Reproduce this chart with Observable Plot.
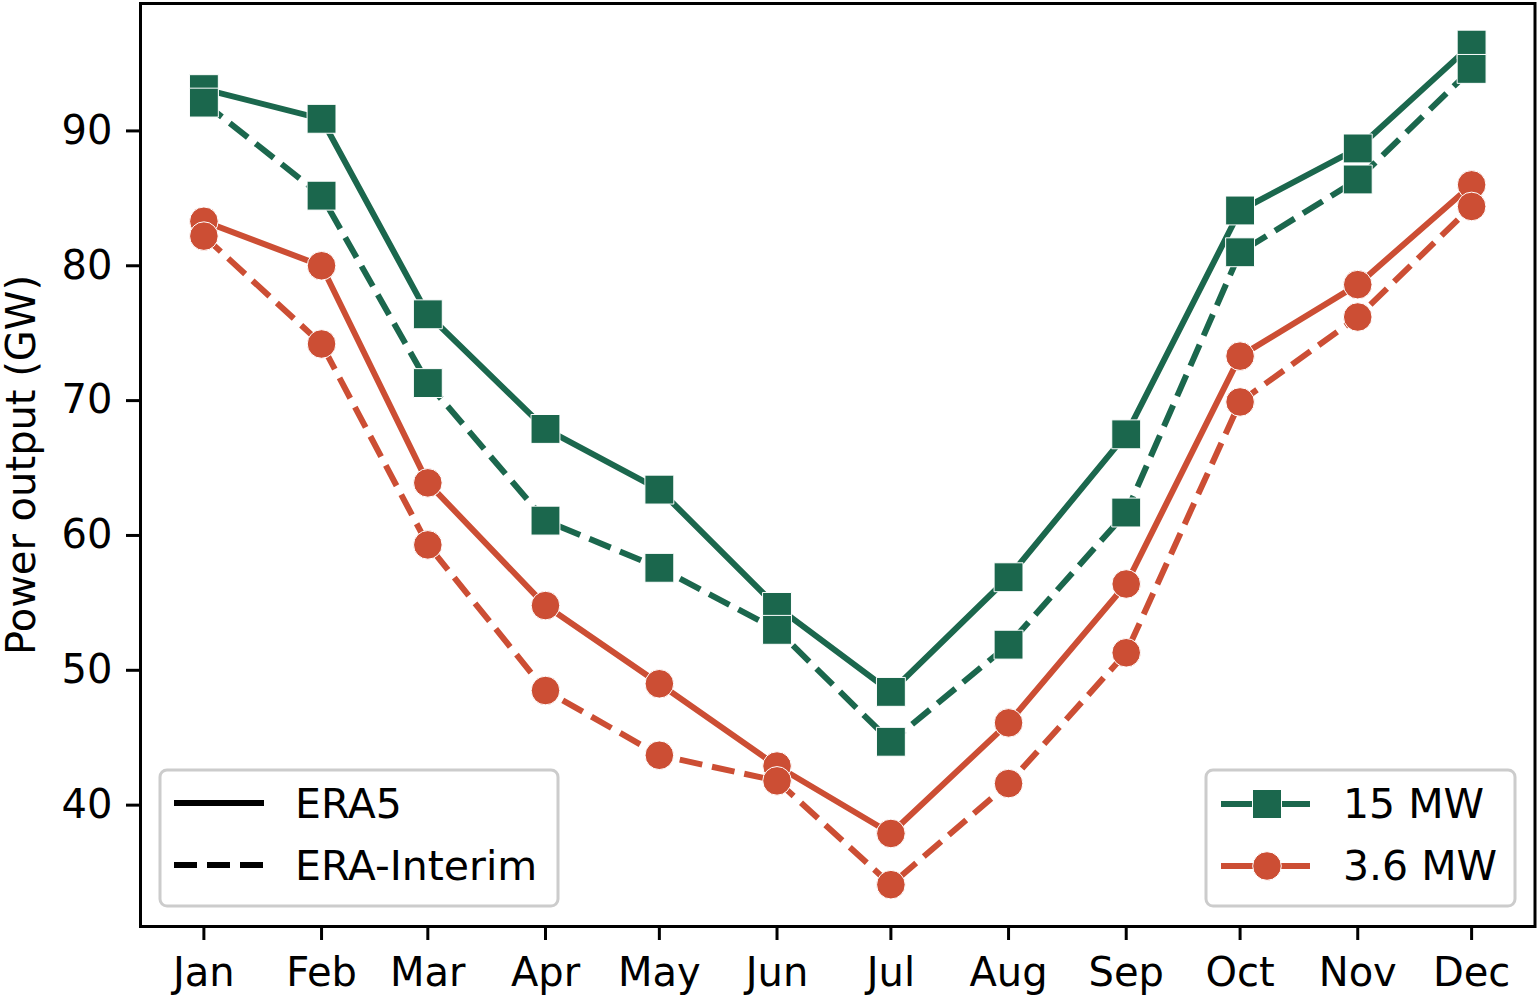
<!DOCTYPE html>
<html>
<head>
<meta charset="utf-8">
<script src="https://cdn.jsdelivr.net/npm/d3@7"></script>
<script src="https://cdn.jsdelivr.net/npm/@observablehq/plot@0.6"></script>
<style>
  html, body { margin: 0; padding: 0; background: white; }
  #chart svg { display: block; }
</style>
</head>
<body>
<div id="chart"></div>
<script>
// ---- Data ----
const months = ["Jan","Feb","Mar","Apr","May","Jun","Jul","Aug","Sep","Oct","Nov","Dec"];
const era5_15MW   = [93.1, 90.9, 76.4, 67.9, 63.4, 54.7, 48.4, 56.9, 67.5, 84.1, 88.7, 96.4];
const eraI_15MW   = [92.1, 85.2, 71.3, 61.1, 57.6, 53.0, 44.7, 51.9, 61.7, 81.0, 86.4, 94.6];
const era5_3_6MW  = [83.3, 80.0, 63.9, 54.8, 49.0, 42.9, 37.9, 46.1, 56.4, 73.3, 78.6, 86.0];
const eraI_3_6MW  = [82.2, 74.2, 59.3, 48.5, 43.7, 41.8, 34.1, 41.6, 51.3, 69.9, 76.2, 84.4];
const yTicks = [40, 50, 60, 70, 80, 90];
const turbines = ["15 MW", "3.6 MW"];
const datasets = ["ERA5", "ERA-Interim"];

const colors = {"15 MW": "#1b674d", "3.6 MW": "#cc4e34"};
const dates = months.map((m, i) => new Date(Date.UTC(2001, i, 1)));

function rows(values, turbine, dataset) {
  return values.map((v, i) => ({date: dates[i], value: v, turbine, dataset}));
}
const series = [
  rows(era5_15MW, "15 MW", "ERA5"),
  rows(eraI_15MW, "15 MW", "ERA-Interim"),
  rows(era5_3_6MW, "3.6 MW", "ERA5"),
  rows(eraI_3_6MW, "3.6 MW", "ERA-Interim")
];

// matplotlib-like 5% padding of the date extent
const t0 = +dates[0], t1 = +dates[dates.length - 1];
const pad = (t1 - t0) * 0.05;

const marks = [];
for (const s of series) {
  const turbine = s[0].turbine, dashed = s[0].dataset === "ERA-Interim";
  marks.push(Plot.line(s, {
    x: "date", y: "value", stroke: colors[turbine], strokeWidth: 6,
    strokeDasharray: dashed ? "23,10" : null,
    strokeLinecap: dashed ? "butt" : "square", strokeLinejoin: "round"
  }));
  marks.push(Plot.dot(s, {
    x: "date", y: "value",
    symbol: turbine === "15 MW" ? "square" : "circle",
    r: turbine === "15 MW" ? 16.3 : 14.3,
    fill: colors[turbine], stroke: "white", strokeWidth: 1
  }));
}

const W = 1538, H = 995;
const mL = 140, mR = 3.5, mT = 3, mB = 69;

const svg = Plot.plot({
  width: W, height: H,
  marginLeft: mL, marginRight: mR, marginTop: mT, marginBottom: mB,
  style: {fontFamily: "DejaVu Sans", fontSize: "40px", background: "white", color: "black", overflow: "visible"},
  x: {type: "utc", domain: [new Date(t0 - pad), new Date(t1 + pad)]},
  y: {domain: [31.0, 99.45]},
  marks: [
    ...marks,
    Plot.frame({stroke: "black", strokeWidth: 3}),
    Plot.axisX({ticks: dates, tickFormat: d => months[d.getUTCMonth()], tickSize: 14, tickPadding: 17,
      strokeWidth: 3, fontSize: 40, label: null}),
    Plot.axisY({ticks: yTicks, tickFormat: d => String(d), tickSize: 14, tickPadding: 14,
      strokeWidth: 3, fontSize: 40, label: "Power output (GW)", labelAnchor: "center",
      labelArrow: "none", labelOffset: 134})
  ]
});

document.getElementById("chart").appendChild(svg);

// ---- Legends (drawn in pixel space inside the frame) ----
const root = d3.select(svg);
function legendBox(x0, y0, w, h) {
  root.append("rect").attr("x", x0).attr("y", y0).attr("width", w).attr("height", h)
    .attr("rx", 7).attr("fill", "white").attr("fill-opacity", 0.8)
    .attr("stroke", "#cccccc").attr("stroke-width", 3);
}
function legendText(x, y, t) {
  root.append("text").attr("x", x).attr("y", y)
    .attr("text-anchor", "start")
    .attr("font-family", "DejaVu Sans").attr("font-size", 41).attr("fill", "black").text(t);
}
// left legend: line styles
legendBox(160, 770, 398, 136);
const ly = [803, 865];
datasets.forEach((d, i) => {
  root.append("line").attr("x1", 174).attr("x2", 264).attr("y1", ly[i]).attr("y2", ly[i])
    .attr("stroke", "black").attr("stroke-width", 6)
    .attr("stroke-dasharray", i === 1 ? "23,10" : null);
  legendText(295, ly[i] + 15, d);
});
// right legend: turbines
legendBox(1206, 770, 309, 136);
turbines.forEach((t, i) => {
  const y = ly[i] + 1;
  root.append("line").attr("x1", 1221).attr("x2", 1310).attr("y1", y).attr("y2", y)
    .attr("stroke", colors[t]).attr("stroke-width", 6);
  if (i === 0) {
    root.append("rect").attr("x", 1267 - 14.5).attr("y", y - 14.5).attr("width", 29).attr("height", 29)
      .attr("fill", colors[t]).attr("stroke", "white").attr("stroke-width", 1);
  } else {
    root.append("circle").attr("cx", 1267).attr("cy", y).attr("r", 14.3)
      .attr("fill", colors[t]).attr("stroke", "white").attr("stroke-width", 1);
  }
  legendText(1343, ly[i] + 15, t);
});
</script>
</body>
</html>
